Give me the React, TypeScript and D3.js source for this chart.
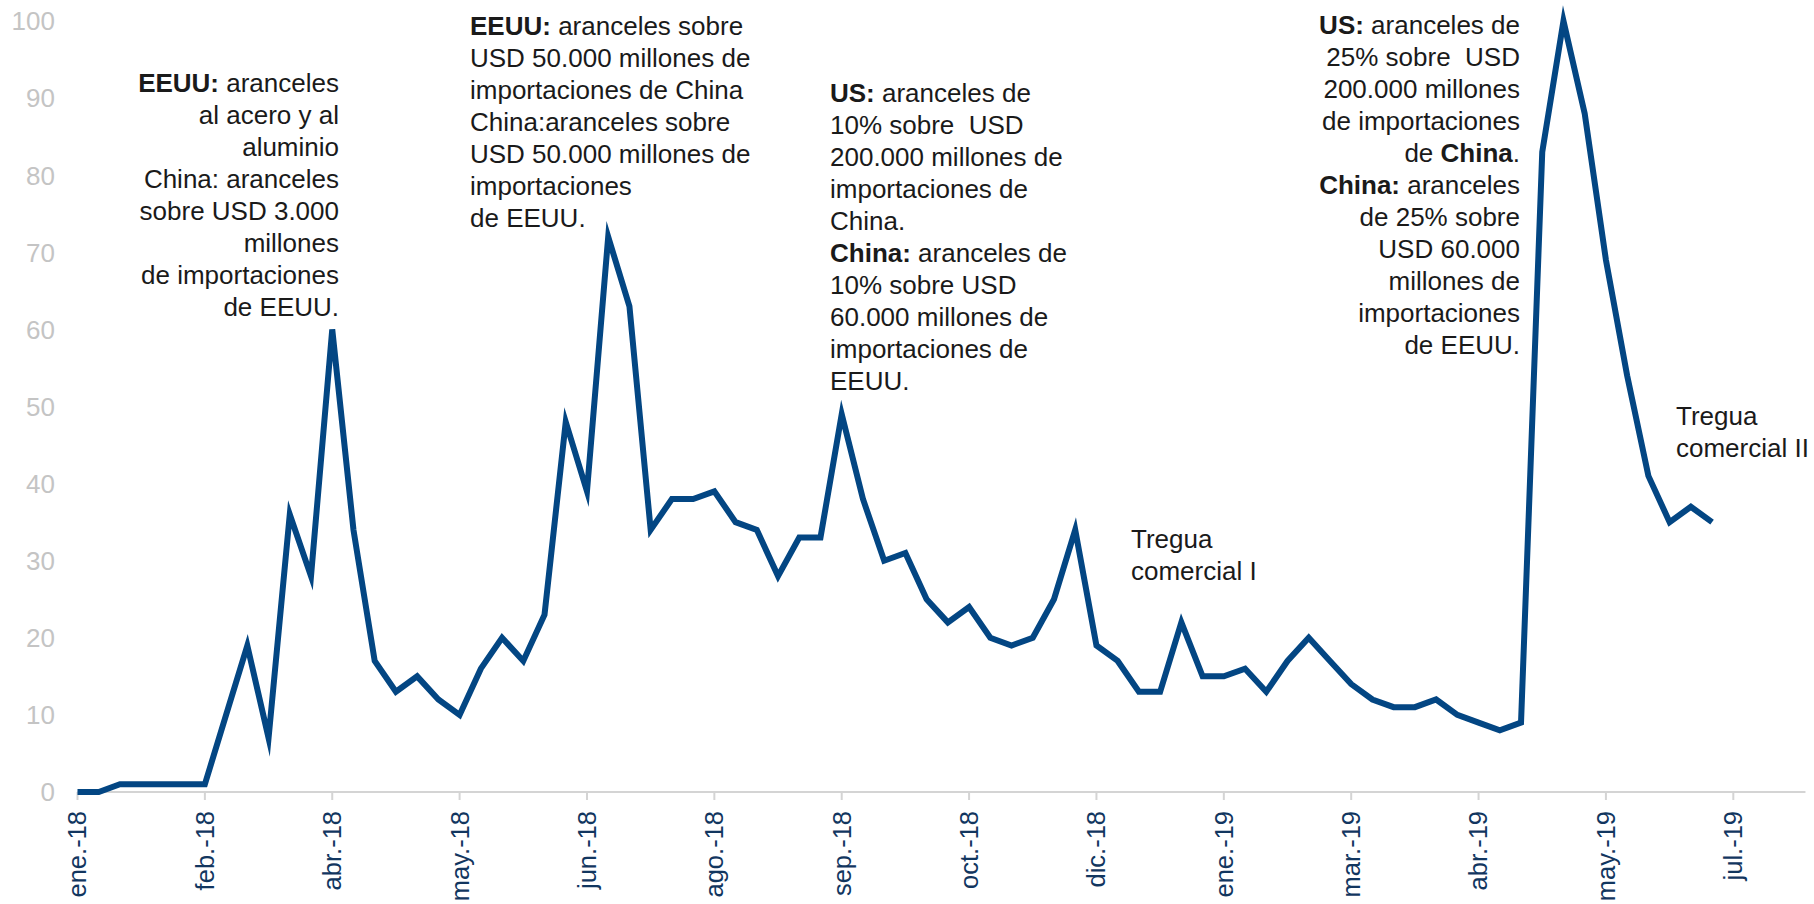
import React from 'react';
import * as d3 from 'd3';

// weekly index values, ene.-18 .. jun.-19
const values = [
  0, 0, 1, 1, 1, 1, 1, 10, 19, 7, 36, 28, 60, 34, 17, 13, 15, 12, 10, 16,
  20, 17, 23, 48, 39, 72, 63, 34, 38, 38, 39, 35, 34, 28, 33, 33, 49, 38, 30, 31,
  25, 22, 24, 20, 19, 20, 25, 34, 19, 17, 13, 13, 22, 15, 15, 16, 13, 17, 20, 17,
  14, 12, 11, 11, 12, 10, 9, 8, 9, 83, 100, 88, 69, 54, 41, 35, 37, 35,
];

const tickLabels = [
  'ene.-18', 'feb.-18', 'abr.-18', 'may.-18', 'jun.-18', 'ago.-18', 'sep.-18',
  'oct.-18', 'dic.-18', 'ene.-19', 'mar.-19', 'abr.-19', 'may.-19', 'jul.-19',
];
const tickStep = 6; // un rótulo cada 6 semanas

const yTicks = [0, 10, 20, 30, 40, 50, 60, 70, 80, 90, 100];

// notas: [texto, negrita]
type Seg = [string, boolean];
const note1: Seg[][] = [
  [['EEUU:', true], [' aranceles', false]],
  [['al acero y al', false]],
  [['aluminio', false]],
  [['China: aranceles', false]],
  [['sobre USD 3.000', false]],
  [['millones', false]],
  [['de importaciones', false]],
  [['de EEUU.', false]],
];
const note2: Seg[][] = [
  [['EEUU:', true], [' aranceles sobre', false]],
  [['USD 50.000 millones de', false]],
  [['importaciones de China', false]],
  [['China:aranceles sobre', false]],
  [['USD 50.000 millones de', false]],
  [['importaciones', false]],
  [['de EEUU.', false]],
];
const note3: Seg[][] = [
  [['US:', true], [' aranceles de', false]],
  [['10% sobre  USD', false]],
  [['200.000 millones de', false]],
  [['importaciones de', false]],
  [['China.', false]],
  [['China:', true], [' aranceles de', false]],
  [['10% sobre USD', false]],
  [['60.000 millones de', false]],
  [['importaciones de', false]],
  [['EEUU.', false]],
];
const note4: Seg[][] = [
  [['US:', true], [' aranceles de', false]],
  [['25% sobre  USD', false]],
  [['200.000 millones', false]],
  [['de importaciones', false]],
  [['de ', false], ['China', true], ['.', false]],
  [['China:', true], [' aranceles', false]],
  [['de 25% sobre', false]],
  [['USD 60.000', false]],
  [['millones de', false]],
  [['importaciones', false]],
  [['de EEUU.', false]],
];
const tregua1: Seg[][] = [[['Tregua', false]], [['comercial I', false]]];
const tregua2: Seg[][] = [[['Tregua', false]], [['comercial II', false]]];

const W = 1814;
const H = 904;
const font = '"Liberation Sans", Arial, sans-serif';

const Note = ({ lines, x, y, anchor }: { lines: Seg[][]; x: number; y: number; anchor: string }) => (
  <text x={x} y={y} textAnchor={anchor} fontSize={26} fill="#1a1a1a" style={{ whiteSpace: 'pre' }}>
    {lines.map((line, i) => (
      <tspan key={i} x={x} dy={i === 0 ? 0 : 32}>
        {line.map((s, j) => (
          <tspan key={j} fontWeight={s[1] ? 'bold' : 'normal'}>{s[0]}</tspan>
        ))}
      </tspan>
    ))}
  </text>
);

export default function App() {
  const x = d3.scaleLinear().domain([0, 78]).range([77.5, 1733.3]);
  const y = d3.scaleLinear().domain([0, 100]).range([792, 21]);
  const axisEnd = x(81.4);

  const line = d3.line<number>()
    .x((_, i) => x(i))
    .y(d => y(d));

  return (
    <div style={{ position: 'absolute', left: 0, top: 0 }}>
      <svg width={W} height={H} style={{ display: 'block', fontFamily: font }}>
        <rect width={W} height={H} fill="#ffffff" />

        {/* eje Y */}
        {yTicks.map(t => (
          <text key={t} x={55} y={y(t)} dy="0.36em" textAnchor="end" fontSize={26} fill="#c4c4c4">
            {t}
          </text>
        ))}

        {/* eje X */}
        <line x1={x(0)} x2={axisEnd} y1={y(0)} y2={y(0)} stroke="#d4d4d4" strokeWidth={2} />
        {tickLabels.map((lab, i) => {
          const tx = x(i * tickStep);
          return (
            <g key={lab} transform={`translate(${tx},${y(0)})`}>
              <line y1={0} y2={8} stroke="#d4d4d4" strokeWidth={2} />
              <text transform="translate(0,19) rotate(-90)" textAnchor="end" dy="0.35em" fontSize={25.5} fill="#12365f">
                {lab}
              </text>
            </g>
          );
        })}

        <path d={line(values) || ''} fill="none" stroke="#034683" strokeWidth={6} strokeLinejoin="miter" strokeMiterlimit={10} />

        <Note lines={note1} x={339} y={92} anchor="end" />
        <Note lines={note2} x={470} y={35} anchor="start" />
        <Note lines={note3} x={830} y={102} anchor="start" />
        <Note lines={tregua1} x={1131} y={548} anchor="start" />
        <Note lines={note4} x={1520} y={34} anchor="end" />
        <Note lines={tregua2} x={1676} y={425} anchor="start" />
      </svg>
    </div>
  );
}
